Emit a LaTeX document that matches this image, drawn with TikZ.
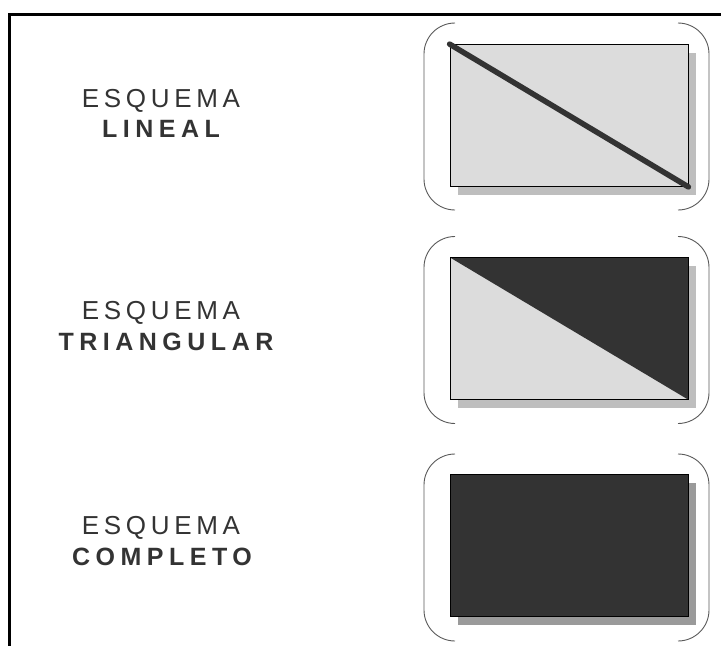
\documentclass[tikz,border=0pt]{standalone}
\usepackage{fontspec}
\usepackage{tikz}
\usetikzlibrary{positioning,shadows}
\newfontfamily\esqfont[LetterSpace=18]{Liberation Sans}
\newfontfamily\tipofont[LetterSpace=22]{Liberation Sans Bold}
\definecolor{claro}{HTML}{DCDCDC}
\definecolor{oscuro}{HTML}{333333}
\definecolor{sombra}{HTML}{BEBEBE}
\definecolor{sombraosc}{HTML}{9A9A9A}

\begin{document}
\begin{tikzpicture}[x=1pt,y=-1pt,
	panel/.style={draw=black,line width=0.8pt,fill=claro,minimum width=238pt,minimum height=142pt,inner sep=0pt,
		drop shadow={shadow xshift=8pt,shadow yshift=-8pt,fill=sombra,opacity=1}},
	bracket/.style={draw=black!65,line width=0.9pt,rounded corners=31pt},
	esq/.style={text=oscuro,font=\esqfont\fontsize{26}{30}\selectfont,anchor=base,inner sep=0pt},
	tipo/.style={text=oscuro,font=\tipofont\fontsize{25}{28}\selectfont,anchor=base,inner sep=0pt}]
	\useasboundingbox (0,0) rectangle (721,646);
	% marco
	\draw[line width=3pt] (721,14.5) -- (9.5,14.5) -- (9.5,646);
	% parentesis de cada panel
	\foreach \yc in {116.5,330,547.5} {
		\draw[bracket] (455,\yc-93.5) -- (424,\yc-93.5) -- (424,\yc+93.5) -- (455,\yc+93.5);
		\draw[bracket] (678,\yc-93.5) -- (709,\yc-93.5) -- (709,\yc+93.5) -- (678,\yc+93.5);
	}
	\node[panel] (p_1) at (569,115.5) {};
	\node[panel,path picture={\fill[oscuro] (path picture bounding box.north west) -- (path picture bounding box.north east) -- (path picture bounding box.south east) -- cycle;}] (p_2) at (569,328.5) {};
	\node[panel,fill=oscuro,drop shadow={shadow xshift=8pt,shadow yshift=-8pt,fill=sombraosc,opacity=1}] (p_3) at (569,545.5) {};
	\draw[oscuro,line width=5.5pt,line cap=round] (p_1.north west) -- (p_1.south east);
	% textos
	\node[esq] (esq_1) at (161,107) {ESQUEMA};
	\node[tipo] (tipo_1) at (161,137) {LINEAL};
	\node[esq] (esq_2) at (161,319) {ESQUEMA};
	\node[tipo] (tipo_2) at (166,350) {TRIANGULAR};
	\node[esq] (esq_3) at (161,534) {ESQUEMA};
	\node[tipo] (tipo_3) at (162,565) {COMPLETO};
\end{tikzpicture}
\end{document}
